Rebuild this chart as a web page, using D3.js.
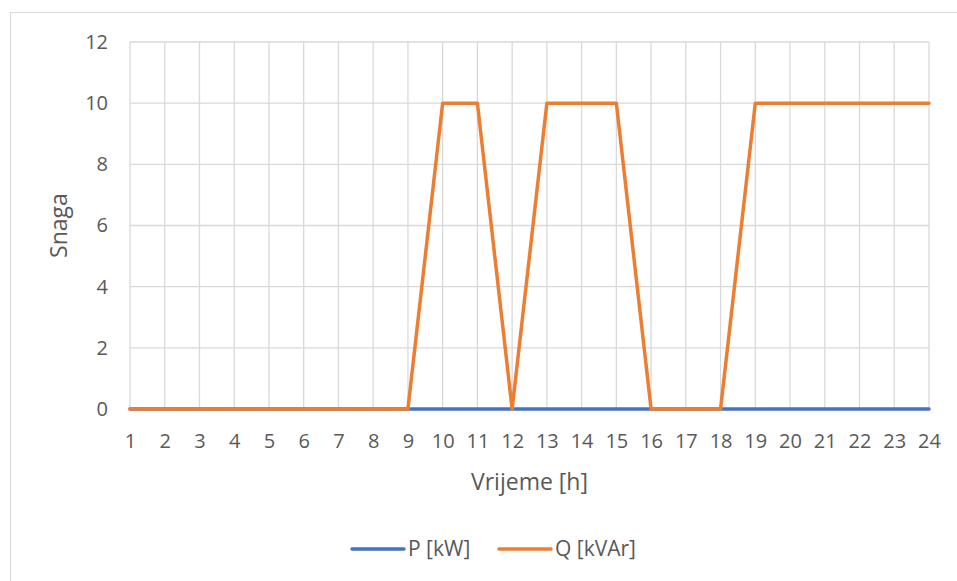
<!DOCTYPE html>
<html>
<head>
<meta charset="utf-8">
<script src="https://cdn.jsdelivr.net/npm/d3@7"></script>
<style>
  body { margin: 0; background: #fff; }
  svg text { font-family: "Open Sans", "Liberation Sans", sans-serif; fill: #595959; }
</style>
</head>
<body>
<svg id="chart" width="957" height="581"></svg>
<script>
// Hours of the day
const hours = d3.range(1, 25);
// Active power P [kW]
const pValues = [0,0,0,0,0,0,0,0,0,0,0,0,0,0,0,0,0,0,0,0,0,0,0,0];
// Reactive power Q [kVAr]
const qValues = [0,0,0,0,0,0,0,0,0,10,10,0,10,10,10,0,0,0,10,10,10,10,10,10];
const yTicks = [0, 2, 4, 6, 8, 10, 12];

const series = [
  { name: "P [kW]", values: pValues, color: "#4472C4" },
  { name: "Q [kVAr]", values: qValues, color: "#ED7D31" }
];

const svg = d3.select("#chart");
const margin = { left: 130, right: 28, top: 42, bottom: 172 };
const W = 957, H = 581;

// Chart frame
svg.append("rect")
  .attr("x", 10.5).attr("y", 12.5)
  .attr("width", 960).attr("height", 600)
  .attr("fill", "#fff").attr("stroke", "#d9d9d9").attr("stroke-width", 1);

const x = d3.scaleLinear().domain([1, 24]).range([margin.left, W - margin.right]);
const y = d3.scaleLinear().domain([0, 12]).range([H - margin.bottom, margin.top]);

// Gridlines
const grid = svg.append("g");
grid.selectAll("line.h").data(yTicks).join("line")
  .attr("x1", x(1)).attr("x2", x(24))
  .attr("y1", d => y(d)).attr("y2", d => y(d))
  .attr("stroke", "#d9d9d9").attr("stroke-width", 1.3);
grid.selectAll("line.v").data(hours).join("line")
  .attr("y1", y(0)).attr("y2", y(12))
  .attr("x1", d => x(d)).attr("x2", d => x(d))
  .attr("stroke", "#d9d9d9").attr("stroke-width", 1.3);

// Y axis labels
const yAxis = svg.append("g")
  .attr("transform", `translate(${x(1) - 22},0)`)
  .call(d3.axisLeft(y).tickValues(yTicks).tickSize(0).tickPadding(0));
yAxis.select(".domain").remove();
yAxis.selectAll("text").attr("font-size", 20).style("fill", "#595959")
  .style("font-family", "'Open Sans', sans-serif");

// X axis labels
const xAxis = svg.append("g")
  .attr("transform", `translate(0,${y(0) + 25})`)
  .call(d3.axisBottom(x).tickValues(hours).tickSize(0).tickPadding(0));
xAxis.select(".domain").remove();
xAxis.selectAll("text").attr("font-size", 20).style("fill", "#595959")
  .style("font-family", "'Open Sans', sans-serif");

// Axis titles
svg.append("text")
  .attr("transform", `translate(67,${(y(0) + y(12)) / 2}) rotate(-90)`)
  .attr("text-anchor", "middle").attr("font-size", 23)
  .text("Snaga");
svg.append("text")
  .attr("x", (x(1) + x(24)) / 2).attr("y", 490)
  .attr("text-anchor", "middle").attr("font-size", 23)
  .text("Vrijeme [h]");

// Series lines
const line = d3.line().x((d, i) => x(hours[i])).y(d => y(d));
series.forEach(s => {
  svg.append("path")
    .datum(s.values)
    .attr("d", line)
    .attr("fill", "none")
    .attr("stroke", s.color)
    .attr("stroke-width", 3.5)
    .attr("stroke-linejoin", "round")
    .attr("stroke-linecap", "round");
});

// Legend
const legend = svg.append("g");
const legendItems = [
  { s: series[0], x: 352 },
  { s: series[1], x: 499 }
];
legendItems.forEach(item => {
  legend.append("line")
    .attr("x1", item.x).attr("x2", item.x + 52)
    .attr("y1", 549).attr("y2", 549)
    .attr("stroke", item.s.color).attr("stroke-width", 3.5)
    .attr("stroke-linecap", "round");
  legend.append("text")
    .attr("x", item.x + 56).attr("y", 549)
    .attr("dy", "0.35em").attr("font-size", 21)
    .text(item.s.name);
});
</script>
</body>
</html>
